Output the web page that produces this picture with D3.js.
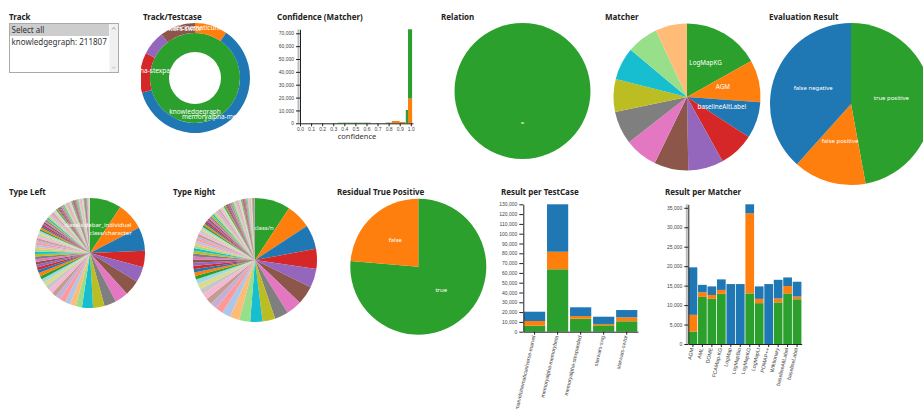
<!DOCTYPE html>
<html>
<head>
<meta charset="utf-8">
<script src="https://cdnjs.cloudflare.com/ajax/libs/d3/7.8.5/d3.min.js"></script>
<style>
body { margin: 0; background: #fff; }
svg { font-family: "Noto Sans", sans-serif; }
.title { font-weight: bold; font-size: 8px; fill: #222; }
.axis text { font-size: 5px; fill: #444; }
.axis path, .axis line { stroke: #222; }
.slice-label { font-size: 6px; fill: #fff; text-anchor: middle; }
</style>
</head>
<body>
<svg id="dash" width="923" height="409"></svg>
<script>
var palette = ["#2ca02c", "#ff7f0e", "#1f77b4", "#d62728", "#9467bd", "#8c564b", "#e377c2", "#7f7f7f", "#bcbd22", "#17becf",
    "#98df8a", "#ffbb78", "#aec7e8", "#ff9896", "#c5b0d5", "#c49c94", "#f7b6d2", "#c7c7c7", "#dbdb8d", "#9edae5"];

var tracks = ["knowledgegraph"];
var trackCounts = [211807];

var testcases = ["marvelcinematicuniverse-marvel", "memoryalpha-memorybeta", "memoryalpha-stexpanded", "starwars-swg", "starwars-swtor"];
var tcTruePos = [6100, 63700, 13300, 6500, 10600];
var tcFalsePos = [4800, 17900, 2700, 1400, 4100];
var tcFalseNeg = [9500, 48400, 8900, 7400, 7400];

var matchers = ["AGM", "AML", "DOME", "FCAMap-KG", "LogMap", "LogMapBio", "LogMapKG", "LogMapLt", "POMAP++", "Wiktionary", "baselineAltLabel", "baselineLabel"];
var mTruePos = [3200, 12100, 11600, 12900, 0, 0, 13000, 10500, 0, 10700, 13000, 11500];
var mFalsePos = [4300, 1200, 1000, 1000, 0, 0, 20600, 1100, 0, 1000, 1900, 700];
var mFalseNeg = [12200, 1900, 2200, 2700, 15400, 15400, 2300, 3200, 15400, 4800, 2200, 3800];

var resultNames = ["true positive", "false positive", "false negative"];

var confBins = [[0.34, 0.64], [0.77, 0.83], [0.83, 0.90], [0.90, 0.95], [0.955, 0.975], [0.975, 1.012]];
var confTruePos = [450, 500, 0, 0, 10400, 53900];
var confFalsePos = [0, 0, 1800, 1000, 0, 19200];
var confTicks = [0, 0.1, 0.2, 0.3, 0.4, 0.5, 0.6, 0.7, 0.8, 0.9, 1.0];

var relations = ["="];
var relationCounts = [211807];

var residualNames = ["true", "false"];
var residualCounts = [75600, 23400];

var typeLeftNames = ["class/sidebar_individual", "class/character"];
var typeLeftCounts = [19400, 17000, 14400, 10000, 9700, 9400, 8200, 7350, 7050, 6750,
    3800, 3550, 3500, 3250, 3200, 2950, 2900, 2650, 2600, 2350,
    2050, 2050, 1780, 1750, 1740, 1700, 1650, 1630, 1550, 1500,
    1450, 1420, 1400, 1350, 1310, 1290, 1250, 1200, 1160, 1100,
    1060, 1040, 1000, 990, 950, 940, 900, 880, 830, 820,
    770, 760, 750, 710, 700, 690, 650, 640, 630, 600,
    590, 580, 575, 570, 560, 555, 550, 540, 535, 530,
    520, 515, 510, 500, 495, 490, 480, 470, 465, 460,
    455, 450, 440, 430, 425, 420, 410, 400, 395, 390,
    380, 370, 365, 360, 350, 340, 330, 320, 310, 300,
    290, 280, 270, 260, 250, 240, 230, 220, 210, 200,
    190, 180, 170, 160, 150, 140, 130, 120, 110, 100];

var typeRightNames = ["class/n"];
var typeRightCounts = [19600, 13800, 13500, 11000, 10500, 10300, 8600, 7500, 7050, 6750,
    6100, 5300, 4700, 4100, 3800, 3500, 3300, 3200, 2950, 2650,
    2000, 1900, 1850, 1800, 1750, 1700, 1650, 1600, 1550, 1500,
    1450, 1400, 1350, 1300, 1260, 1240, 1200, 1150, 1100, 1050,
    1000, 980, 960, 940, 920, 900, 880, 860, 840, 820,
    800, 780, 760, 740, 720, 700, 680, 660, 640, 620,
    600, 590, 580, 570, 560, 550, 540, 530, 520, 510,
    500, 490, 480, 470, 460, 450, 440, 430, 420, 410,
    400, 390, 380, 370, 360, 350, 340, 330, 320, 310,
    300, 290, 280, 270, 260, 250, 240, 230, 220, 210,
    200, 190, 180, 170, 160, 150, 140, 130, 120, 110];

function init() {
    var svg = d3.select("#dash");
    var fmt = d3.format(",");

    svg.append("rect").attr("width", 923).attr("height", 409).attr("fill", "#fff");

    // chart titles
    var titles = [["Track", 9, 20], ["Track/Testcase", 143, 20], ["Confidence (Matcher)", 277, 20],
        ["Relation", 441, 20], ["Matcher", 605, 20], ["Evaluation Result", 769, 20],
        ["Type Left", 9, 195], ["Type Right", 173, 195], ["Residual True Positive", 337, 195],
        ["Result per TestCase", 501, 195], ["Result per Matcher", 665, 195]];
    svg.selectAll(".title")
        .data(titles)
        .enter()
        .append("text")
        .attr("class", "title")
        .attr("x", function (d) { return d[1]; })
        .attr("y", function (d) { return d[2]; })
        .text(function (d) { return d[0]; });

    // Track select box
    var sel = svg.append("g").attr("transform", "translate(9.5,23.5)");
    sel.append("rect").attr("width", 109).attr("height", 49).attr("fill", "#fff").attr("stroke", "#aaa");
    sel.append("rect").attr("x", 0.5).attr("y", 0.5).attr("width", 99).attr("height", 12).attr("fill", "#cdcdcd");
    sel.append("rect").attr("x", 100).attr("y", 0.5).attr("width", 8.5).attr("height", 48).attr("fill", "#f0f0f0");
    sel.append("path").attr("d", "M102.5,6 L104.25,3.8 L106,6").attr("fill", "none").attr("stroke", "#a3a3a3");
    sel.append("path").attr("d", "M102.5,43 L104.25,45.2 L106,43").attr("fill", "none").attr("stroke", "#c3c3c3");
    var options = ["Select all"].concat(tracks.map(function (t, i) { return t + ": " + trackCounts[i]; }));
    sel.selectAll(".opt")
        .data(options)
        .enter()
        .append("text")
        .attr("class", "opt")
        .attr("x", 2)
        .attr("y", function (d, i) { return 9.8 + i * 11.7; })
        .attr("font-size", "8px")
        .attr("fill", "#333")
        .text(function (d) { return d; });

    // Track/Testcase sunburst
    svg.append("clipPath").attr("id", "sunClip")
        .append("rect").attr("x", 141).attr("y", 21).attr("width", 111).attr("height", 115);
    var sun = svg.append("g").attr("clip-path", "url(#sunClip)")
        .append("g").attr("transform", "translate(195,78)");
    var tcTotals = testcases.map(function (t, i) { return tcTruePos[i] + tcFalsePos[i] + tcFalseNeg[i]; });
    var innerArc = d3.arc().innerRadius(26).outerRadius(45);
    var outerArc = d3.arc().innerRadius(45).outerRadius(55);
    var innerSlices = d3.pie().sort(null)(trackCounts);
    var outerSlices = d3.pie().sort(null)(tcTotals);
    sun.selectAll(".inner")
        .data(innerSlices)
        .enter()
        .append("path")
        .attr("class", "inner")
        .attr("d", innerArc)
        .attr("fill", function (d, i) { return palette[i]; });
    sun.selectAll(".outer")
        .data(outerSlices)
        .enter()
        .append("path")
        .attr("class", "outer")
        .attr("d", outerArc)
        .attr("fill", function (d, i) { return palette[(i + tracks.length) % 20]; });
    sun.selectAll(".inner-label")
        .data(innerSlices.filter(function (d) { return d.endAngle - d.startAngle >= 0.5; }))
        .enter()
        .append("text")
        .attr("class", "slice-label")
        .style("font-size", "6.5px")
        .attr("transform", function (d) { return "translate(" + innerArc.centroid(d) + ")"; })
        .text(function (d) { return tracks[d.index]; });
    sun.selectAll(".outer-label")
        .data(outerSlices.filter(function (d) { return d.endAngle - d.startAngle >= 0.5; }))
        .enter()
        .append("text")
        .attr("class", "slice-label")
        .style("font-size", "6.5px")
        .attr("transform", function (d) { return "translate(" + outerArc.centroid(d) + ")"; })
        .text(function (d) { return testcases[d.index]; });

    // Confidence histogram
    var cx = d3.scaleLinear().domain([0, 1.02]).range([300, 413]);
    var confMax = d3.max(confBins, function (b, i) { return confTruePos[i] + confFalsePos[i]; });
    var cy = d3.scaleLinear().domain([0, confMax]).range([123.3, 29.3]);
    var conf = svg.append("g");
    conf.selectAll(".fp")
        .data(confBins)
        .enter()
        .append("rect")
        .attr("x", function (d) { return cx(d[0]); })
        .attr("width", function (d) { return cx(d[1]) - cx(d[0]); })
        .attr("y", function (d, i) { return cy(confFalsePos[i]); })
        .attr("height", function (d, i) { return cy(0) - cy(confFalsePos[i]); })
        .attr("fill", palette[1]);
    conf.selectAll(".tp")
        .data(confBins)
        .enter()
        .append("rect")
        .attr("x", function (d) { return cx(d[0]); })
        .attr("width", function (d) { return cx(d[1]) - cx(d[0]); })
        .attr("y", function (d, i) { return cy(confFalsePos[i] + confTruePos[i]); })
        .attr("height", function (d, i) { return cy(confFalsePos[i]) - cy(confFalsePos[i] + confTruePos[i]); })
        .attr("fill", palette[0]);
    conf.append("rect").attr("x", 297.5).attr("y", cy(confMax)).attr("width", 2).attr("height", cy(0) - cy(confMax)).attr("fill", "#bbb");
    conf.append("g").attr("class", "axis")
        .attr("transform", "translate(300,0)")
        .call(d3.axisLeft(cy).tickValues(d3.range(0, 70001, 10000)).tickFormat(fmt).tickSize(4).tickPadding(2).tickSizeOuter(0));
    conf.append("g").attr("class", "axis")
        .attr("transform", "translate(0,123.3)")
        .call(d3.axisBottom(cx).tickValues(confTicks).tickFormat(d3.format(".1f")).tickSize(3).tickPadding(1.5).tickSizeOuter(0));
    conf.append("text").attr("x", 357).attr("y", 139).attr("text-anchor", "middle")
        .attr("font-size", "7.5px").attr("fill", "#333").text("confidence");

    // generic pie
    function drawPie(cxp, cyp, r, values, names, fontSize) {
        var g = svg.append("g").attr("transform", "translate(" + cxp + "," + cyp + ")");
        var arc = d3.arc().innerRadius(0).outerRadius(r);
        var slices = d3.pie().sort(null)(values);
        g.selectAll("path")
            .data(slices)
            .enter()
            .append("path")
            .attr("d", arc)
            .attr("fill", function (d, i) { return palette[i % 20]; });
        g.selectAll("text")
            .data(slices.filter(function (d) { return d.endAngle - d.startAngle >= 0.5 && names[d.index]; }))
            .enter()
            .append("text")
            .attr("class", "slice-label")
            .style("font-size", fontSize || "6px")
            .attr("transform", function (d) { return "translate(" + arc.centroid(d) + ")"; })
            .text(function (d) { return names[d.index]; });
    }

    // Relation
    drawPie(522.5, 91, 68, relationCounts, relations);

    // Matcher, ordered by size
    var mTotals = matchers.map(function (m, i) { return { name: m, total: mTruePos[i] + mFalsePos[i] + mFalseNeg[i] }; });
    mTotals.sort(function (a, b) { return b.total - a.total; });
    drawPie(687, 97, 73.5, mTotals.map(function (d) { return d.total; }), mTotals.map(function (d) { return d.name; }), "6.3px");

    // Evaluation result
    var evalCounts = [d3.sum(tcTruePos), d3.sum(tcFalsePos), d3.sum(tcFalseNeg)];
    drawPie(851, 104, 81, evalCounts, resultNames);

    // Type Left / Type Right / Residual
    drawPie(90, 253, 55, typeLeftCounts, typeLeftNames);
    drawPie(255, 260, 62, typeRightCounts, typeRightNames);
    drawPie(418.3, 266.7, 68, residualCounts, residualNames);

    // stacked bars (TP, FP, FN)
    function drawStack(names, tp, fp, fn, x0, x1, yMax, yBase, yTop, tickStep, grayBar) {
        var g = svg.append("g");
        var x = d3.scaleBand().domain(names).range([x0, x1]).paddingInner(0.08).paddingOuter(0.03);
        var y = d3.scaleLinear().domain([0, yMax]).range([yBase, yTop]);
        var layers = [tp, fp, fn];
        layers.forEach(function (layer, k) {
            g.selectAll(".layer" + k)
                .data(names)
                .enter()
                .append("rect")
                .attr("x", function (d) { return x(d); })
                .attr("width", x.bandwidth())
                .attr("y", function (d, i) {
                    var top = 0;
                    for (var j = 0; j <= k; j++) top += layers[j][i];
                    return y(top);
                })
                .attr("height", function (d, i) { return y(0) - y(layer[i]); })
                .attr("fill", palette[k]);
        });
        if (grayBar) {
            g.append("rect").attr("x", x0 - 2.5).attr("y", yTop).attr("width", 2).attr("height", yBase - yTop).attr("fill", "#bbb");
        }
        g.append("g").attr("class", "axis")
            .attr("transform", "translate(" + x0 + ",0)")
            .call(d3.axisLeft(y).tickValues(d3.range(0, yMax + 1, tickStep)).tickFormat(fmt).tickSize(4).tickPadding(2).tickSizeOuter(0));
        var gx = g.append("g").attr("class", "axis")
            .attr("transform", "translate(0," + yBase + ")")
            .call(d3.axisBottom(x).tickSize(3).tickSizeOuter(0));
        gx.selectAll("text")
            .attr("x", -4)
            .attr("y", 0)
            .attr("dy", "0.35em")
            .attr("transform", "rotate(-77)")
            .style("text-anchor", "end")
            .style("font-size", "5.3px");
    }

    drawStack(testcases, tcTruePos, tcFalsePos, tcFalseNeg, 523.3, 638, 130000, 331.7, 204.3, 10000, false);
    var mMax = d3.max(matchers, function (m, i) { return mTruePos[i] + mFalsePos[i] + mFalseNeg[i]; });
    drawStack(matchers, mTruePos, mFalsePos, mFalseNeg, 688.3, 801.7, mMax, 344, 204.3, 5000, true);
}

window.onload = init;
</script>
</body>
</html>
